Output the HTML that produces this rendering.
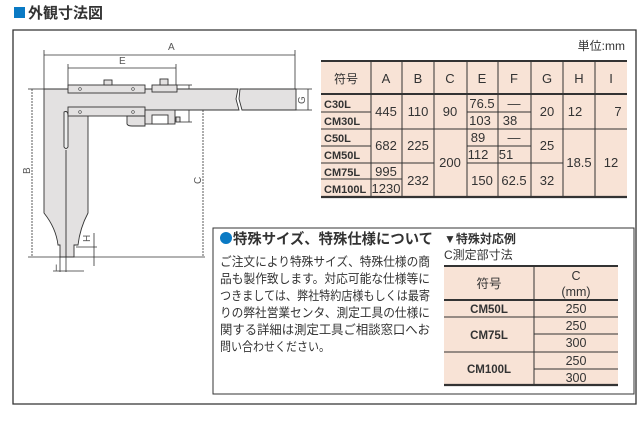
<!DOCTYPE html>
<html><head><meta charset="utf-8"><style>
body{margin:0;background:#fff;}
svg{display:block;font-family:"Liberation Sans","Noto Sans CJK JP",sans-serif;}
</style></head><body>
<svg width="643" height="426" viewBox="0 0 643 426" xmlns="http://www.w3.org/2000/svg">
<rect x="14" y="7" width="11" height="11" fill="#0a7ac4"/>
<text x="28" y="18" font-size="15" font-weight="bold" fill="#333">外観寸法図</text>
<path d="M13 30 H636 V404 H13 Z" fill="none" stroke="#333" stroke-width="1.3"/>

<g stroke="#333" stroke-width="0.8" fill="none">
 <line x1="44" y1="55" x2="295" y2="55"/>
 <line x1="44" y1="50" x2="44" y2="89"/><line x1="295" y1="50" x2="295" y2="89"/>
 <line x1="68" y1="68" x2="176" y2="68"/>
 <line x1="68" y1="64" x2="68" y2="86"/><line x1="176" y1="64" x2="176" y2="86"/>
 <line x1="28" y1="89" x2="44" y2="89"/><line x1="28" y1="257" x2="205" y2="257"/>
 <line x1="32" y1="89" x2="32" y2="257" stroke-dasharray="2,1"/>
 <line x1="203" y1="110" x2="203" y2="257" stroke-dasharray="2,1"/>
 <line x1="176" y1="85" x2="192" y2="85"/><line x1="180" y1="122" x2="192" y2="122"/>
 <line x1="189" y1="85" x2="189" y2="122"/>
 <line x1="296" y1="89" x2="312" y2="89"/><line x1="296" y1="110" x2="312" y2="110"/>
 <line x1="308" y1="89" x2="308" y2="110"/>
 <line x1="76" y1="247" x2="97" y2="247"/><line x1="94" y1="233" x2="94" y2="266"/>
 <line x1="60" y1="257" x2="60" y2="272"/><line x1="66" y1="257" x2="66" y2="272"/>
 <line x1="53" y1="271" x2="84" y2="271"/>
</g>
<g fill="#555" font-size="10">
 <text x="168" y="50">A</text><text x="119" y="64">E</text>
 <text x="23" y="173" transform="rotate(-90 27 170)">B</text>
 <text x="193" y="184" transform="rotate(-90 197 180)">C</text>
 <text x="180" y="104" transform="rotate(-90 184 100)">F</text>
 <text x="298" y="103" transform="rotate(-90 302 100)">G</text>
 <text x="82" y="242" transform="rotate(-90 86 238)">H</text>
 <text x="55" y="271" font-size="9">I</text>
</g>
<g stroke="#333" stroke-width="0.9" fill="#e3e1e1">
 <path d="M44 89 H238 L236 99 L239 110 H88 V213 Q80 228 78 245 H74 V257 H60 V245 H58 Q56 228 44 213 Z"/>
 <path d="M240 89 H296 V110 H242 L239 99 Z"/>
 <path d="M64 112 Q68 110 68 116 V147 Q66 150 64 147 Z" fill="#eee"/>
 <line x1="66" y1="150" x2="66" y2="257"/>
 <rect x="68" y="85" width="77" height="8"/>
 <rect x="68" y="107" width="77" height="9"/>
 <rect x="152" y="85" width="25" height="7"/>
 <path d="M127 116 V124 Q128 126 132 126 H145 V116 Z"/>
 <rect x="145" y="110" width="30" height="14"/>
 <rect x="152" y="115" width="16" height="9" fill="#fff"/>
 <rect x="104" y="80" width="8" height="5"/><rect x="160" y="79" width="8" height="6"/>
 <rect x="176" y="117" width="4" height="5"/>
</g>
<g fill="#fff" stroke="#333" stroke-width="0.6">
 <circle cx="80" cy="89" r="1.3"/><circle cx="133" cy="89" r="1.3"/>
 <circle cx="80" cy="112" r="1.3"/><circle cx="133" cy="112" r="1.3"/>
</g>

<text x="625" y="50" font-size="12" fill="#333" text-anchor="end">単位:mm</text>
<rect x="321" y="61" width="306" height="136" fill="#f8e3d6"/>
<g stroke="#333" stroke-width="1">
 <line x1="321" y1="61" x2="627" y2="61" stroke-width="2"/>
 <line x1="321" y1="94" x2="627" y2="94" stroke-width="2"/>
 <line x1="321" y1="197" x2="627" y2="197" stroke-width="2.2"/>
 <line x1="321" y1="129" x2="627" y2="129"/>
 <line x1="321" y1="112" x2="371" y2="112"/>
 <line x1="467" y1="112" x2="531" y2="112"/>
 <line x1="321" y1="146" x2="371" y2="146"/>
 <line x1="467" y1="146" x2="531" y2="146"/>
 <line x1="321" y1="163" x2="434" y2="163"/>
 <line x1="467" y1="163" x2="563" y2="163"/>
 <line x1="321" y1="179" x2="402" y2="179"/>
 <line x1="371" y1="61" x2="371" y2="197"/><line x1="402" y1="61" x2="402" y2="197"/>
 <line x1="434" y1="61" x2="434" y2="197"/><line x1="467" y1="61" x2="467" y2="197"/>
 <line x1="498" y1="61" x2="498" y2="197"/><line x1="531" y1="61" x2="531" y2="197"/>
 <line x1="563" y1="61" x2="563" y2="197"/><line x1="595" y1="61" x2="595" y2="197"/>
</g>
<g font-size="13" fill="#333" text-anchor="middle">
 <text x="346" y="83" font-size="12">符号</text><text x="386" y="83">A</text><text x="418" y="83">B</text>
 <text x="450" y="83">C</text><text x="482" y="83">E</text><text x="514" y="83">F</text>
 <text x="547" y="83">G</text><text x="579" y="83">H</text><text x="611" y="83">I</text>
 <text x="386" y="116">445</text><text x="418" y="116">110</text><text x="450" y="116">90</text>
 <text x="482" y="108">76.5</text><text x="514" y="108">—</text>
 <text x="480" y="125">103</text><text x="510" y="125">38</text>
 <text x="547" y="116">20</text><text x="575" y="116">12</text><text x="618" y="116">7</text>
 <text x="386" y="150">682</text><text x="418" y="150">225</text>
 <text x="450" y="167">200</text>
 <text x="478" y="142">89</text><text x="514" y="142">—</text>
 <text x="478" y="159">112</text><text x="506" y="159">51</text>
 <text x="547" y="150">25</text><text x="579" y="167">18.5</text><text x="611" y="167">12</text>
 <text x="386" y="176">995</text><text x="386" y="193">1230</text>
 <text x="418" y="185">232</text><text x="482" y="185">150</text><text x="514" y="185">62.5</text><text x="547" y="185">32</text>
</g>
<g font-size="11" font-weight="bold" fill="#333">
 <text x="324" y="108">C30L</text><text x="324" y="125">CM30L</text>
 <text x="324" y="142">C50L</text><text x="324" y="159">CM50L</text>
 <text x="324" y="176">CM75L</text><text x="324" y="193">CM100L</text>
</g>

<rect x="213" y="228" width="421" height="166" fill="none" stroke="#333" stroke-width="1"/>
<circle cx="226" cy="238" r="6" fill="#0a7ac4"/>
<text x="233" y="244" font-size="14.5" font-weight="bold" fill="#333" textLength="200" lengthAdjust="spacingAndGlyphs">特殊サイズ、特殊仕様について</text>
<g font-size="12.5" fill="#333" lengthAdjust="spacingAndGlyphs">
 <text x="220" y="266" textLength="210" lengthAdjust="spacingAndGlyphs">ご注文により特殊サイズ、特殊仕様の商</text>
 <text x="220" y="283" textLength="210" lengthAdjust="spacingAndGlyphs">品も製作致します。対応可能な仕様等に</text>
 <text x="220" y="300" textLength="210" lengthAdjust="spacingAndGlyphs">つきましては、弊社特約店様もしくは最寄</text>
 <text x="220" y="317" textLength="210" lengthAdjust="spacingAndGlyphs">りの弊社営業センタ、測定工具の仕様に</text>
 <text x="220" y="334" textLength="210" lengthAdjust="spacingAndGlyphs">関する詳細は測定工具ご相談窓口へお</text>
 <text x="220" y="351" textLength="110" lengthAdjust="spacingAndGlyphs">問い合わせください。</text>
</g>
<text x="444" y="243" font-size="12" font-weight="bold" fill="#333">▼特殊対応例</text>
<text x="444" y="259" font-size="12" fill="#333">C測定部寸法</text>
<rect x="444" y="266" width="174" height="119" fill="#f8e3d6"/>
<g stroke="#333" stroke-width="1">
 <line x1="444" y1="266" x2="618" y2="266" stroke-width="2"/>
 <line x1="444" y1="300" x2="618" y2="300" stroke-width="2"/>
 <line x1="444" y1="385" x2="618" y2="385" stroke-width="2.2"/>
 <line x1="444" y1="317" x2="618" y2="317"/>
 <line x1="534" y1="334" x2="618" y2="334"/>
 <line x1="444" y1="352" x2="618" y2="352"/>
 <line x1="534" y1="369" x2="618" y2="369"/>
 <line x1="534" y1="266" x2="534" y2="385"/>
</g>
<g font-size="12.5" fill="#333" text-anchor="middle">
 <text x="489" y="288">符号</text><text x="576" y="280">C</text><text x="576" y="296">(mm)</text>
 <text x="576" y="313">250</text><text x="576" y="330">250</text><text x="576" y="347">300</text>
 <text x="576" y="365">250</text><text x="576" y="382">300</text>
</g>
<g font-size="11.5" font-weight="bold" fill="#333" text-anchor="middle">
 <text x="489" y="313">CM50L</text><text x="489" y="339">CM75L</text><text x="489" y="373">CM100L</text>
</g>
</svg>
</body></html>
